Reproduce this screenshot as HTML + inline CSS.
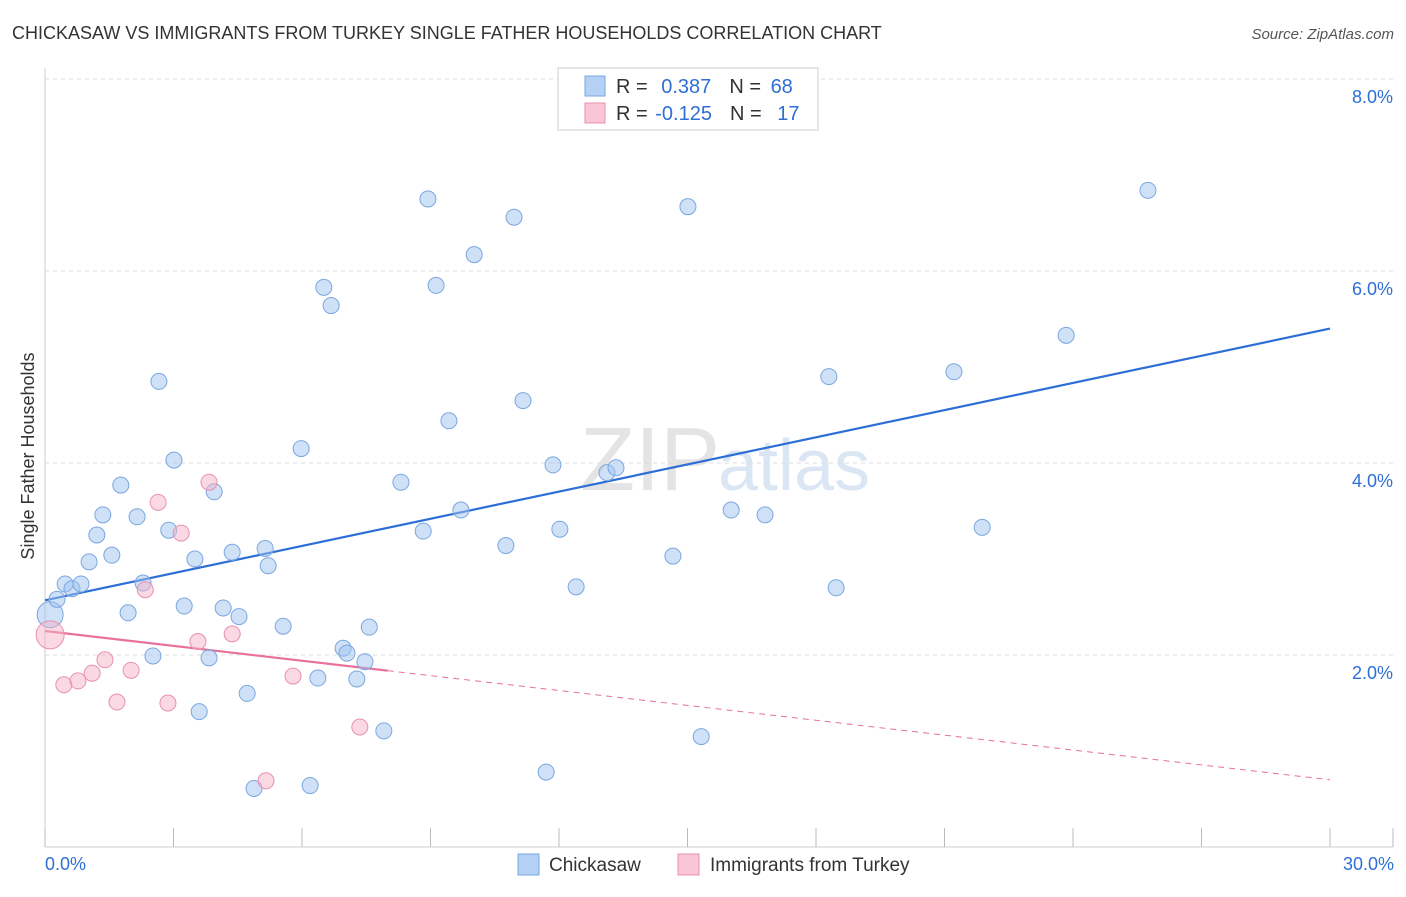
<!DOCTYPE html>
<html><head><meta charset="utf-8"><style>
body{margin:0;background:#fff;font-family:"Liberation Sans",sans-serif;}
svg text{font-family:"Liberation Sans",sans-serif;}
</style></head><body>
<svg id="c" width="1406" height="892">
<text x="12" y="39" font-size="18" fill="#333">CHICKASAW VS IMMIGRANTS FROM TURKEY SINGLE FATHER HOUSEHOLDS CORRELATION CHART</text>
<text x="1394" y="39" font-size="15" fill="#555" font-style="italic" text-anchor="end">Source: ZipAtlas.com</text>
<text x="720" y="490" font-size="90" fill="#e4e4e4" text-anchor="end" font-family="Liberation Serif">ZIP</text>
<text x="718" y="490" font-size="72" fill="#dbe6f5">atlas</text>
<g id="grid"></g><g id="marks"></g>
<text transform="translate(34,456) rotate(-90)" font-size="18" fill="#333" text-anchor="middle">Single Father Households</text>
<g>
<rect x="558" y="68" width="260" height="62" fill="#fff" stroke="#ccc"/>
<rect x="585" y="76" width="20" height="20" fill="#b5d0f5" stroke="#7aa7e0"/>
<rect x="585" y="103" width="20" height="20" fill="#f8c6d6" stroke="#e890b0"/>
<text x="616" y="93" font-size="20" fill="#333">R = <tspan fill="#2e6fd6" dx="8">0.387</tspan><tspan dx="18" fill="#333">N = </tspan><tspan fill="#2e6fd6" dx="4">68</tspan></text>
<text x="616" y="120" font-size="20" fill="#333">R = <tspan fill="#2e6fd6" dx="2">-0.125</tspan><tspan dx="18" fill="#333">N = </tspan><tspan fill="#2e6fd6" dx="10">17</tspan></text>
</g>
<g>
<rect x="518" y="854" width="21" height="21" fill="#b5d0f5" stroke="#7aa7e0"/>
<text x="549" y="871" font-size="19" fill="#333">Chickasaw</text>
<rect x="678" y="854" width="21" height="21" fill="#f8c6d6" stroke="#e890b0"/>
<text x="710" y="871" font-size="19" fill="#333">Immigrants from Turkey</text>
</g>
<text x="45" y="870" font-size="18" fill="#2e6fd6">0.0%</text>
<text x="1394" y="870" font-size="18" fill="#2e6fd6" text-anchor="end">30.0%</text>
</svg>
<script>
const yTicks=[2,4,6,8];
const yTickLabels=["2.0%","4.0%","6.0%","8.0%"];
const blueX=[0.12,0.28,0.47,0.63,0.84,1.03,1.21,1.35,1.56,1.77,1.94,2.15,2.29,2.52,2.66,2.89,3.01,3.25,3.50,3.60,3.83,3.95,4.16,4.37,4.53,4.72,4.88,5.14,5.21,5.56,5.98,6.19,6.37,6.51,6.68,6.96,7.05,7.28,7.47,7.57,7.91,8.31,8.83,8.94,9.13,9.43,9.71,10.02,10.76,10.95,11.16,11.70,11.86,12.02,12.40,13.12,13.33,14.66,15.01,15.32,16.02,16.81,18.30,18.47,21.22,21.88,23.84,25.75];
const blueY=[2.42,2.58,2.74,2.69,2.74,2.97,3.25,3.46,3.04,3.77,2.44,3.44,2.75,1.99,4.85,3.30,4.03,2.51,3.00,1.41,1.97,3.70,2.49,3.07,2.40,1.60,0.61,3.11,2.93,2.30,4.15,0.64,1.76,5.83,5.64,2.07,2.02,1.75,1.93,2.29,1.21,3.80,3.29,6.75,5.85,4.44,3.51,6.17,3.14,6.56,4.65,0.78,3.98,3.31,2.71,3.90,3.95,3.03,6.67,1.15,3.51,3.46,4.90,2.70,4.95,3.33,5.33,6.84];
const pinkX=[0.12,0.44,0.77,1.10,1.40,1.68,2.01,2.34,2.64,2.87,3.18,3.57,3.83,4.37,5.16,5.79,7.35];
const pinkY=[2.21,1.69,1.73,1.81,1.95,1.51,1.84,2.68,3.59,1.50,3.27,2.14,3.80,2.22,0.69,1.78,1.25];
const blueTrend=[2.57,5.40];
const pinkTrend=[2.25,0.70];
const NS="http://www.w3.org/2000/svg";
const X=v=>45+v*(1285/30), Y=v=>847-v*96;
function mk(t,a,p){const e=document.createElementNS(NS,t);for(const k in a)e.setAttribute(k,a[k]);p.appendChild(e);return e;}
const g=document.getElementById('grid'),m=document.getElementById('marks');
yTicks.forEach((t,i)=>{
 const l=mk('line',{x1:45,x2:1393,y1:Y(t),y2:Y(t),stroke:'#ddd','stroke-dasharray':'4,4'},g);
 
 
 const tx=mk('text',{x:1393,y:Y(t)+24,'font-size':18,fill:'#2e6fd6','text-anchor':'end'},g);
 tx.textContent=yTickLabels[i];
 
 
});
mk('line',{x1:45,x2:45,y1:68,y2:847,stroke:'#ccc'},g);
mk('line',{x1:45,x2:1393,y1:847,y2:847,stroke:'#ccc'},g);
for(let i=0;i<=10;i++){const x=X(i*3);mk('line',{x1:x,x2:x,y1:828,y2:847,stroke:'#bbb'},g);}
mk('line',{x1:1393,x2:1393,y1:828,y2:847,stroke:'#bbb'},g);
const bt=mk('line',{x1:X(0),y1:Y(blueTrend[0]),x2:X(30),y2:Y(blueTrend[1]),stroke:'#2e6fd6','stroke-width':2.2},m);


const pAt=x=>pinkTrend[0]+(pinkTrend[1]-pinkTrend[0])*x/30;
const pt=mk('line',{x1:X(0),y1:Y(pinkTrend[0]),x2:X(8),y2:Y(pAt(8)),stroke:'#e8709a','stroke-width':2.2},m);


const pd=mk('line',{x1:X(8),y1:Y(pAt(8)),x2:X(30),y2:Y(pinkTrend[1]),stroke:'#e8709a','stroke-width':1,'stroke-dasharray':'6,5'},m);


blueX.forEach((x,i)=>{
 const c=mk('circle',{cx:X(x),cy:Y(blueY[i]),r:i==0?13:8,fill:'rgba(160,196,240,0.5)',stroke:'#7aa7e0','stroke-width':1},m);
 
 
});
pinkX.forEach((x,i)=>{
 const c=mk('circle',{cx:X(x),cy:Y(pinkY[i]),r:i==0?14:8,fill:'rgba(245,180,200,0.5)',stroke:'#e890b0','stroke-width':1},m);
 
 
});
</script>
</body></html>
